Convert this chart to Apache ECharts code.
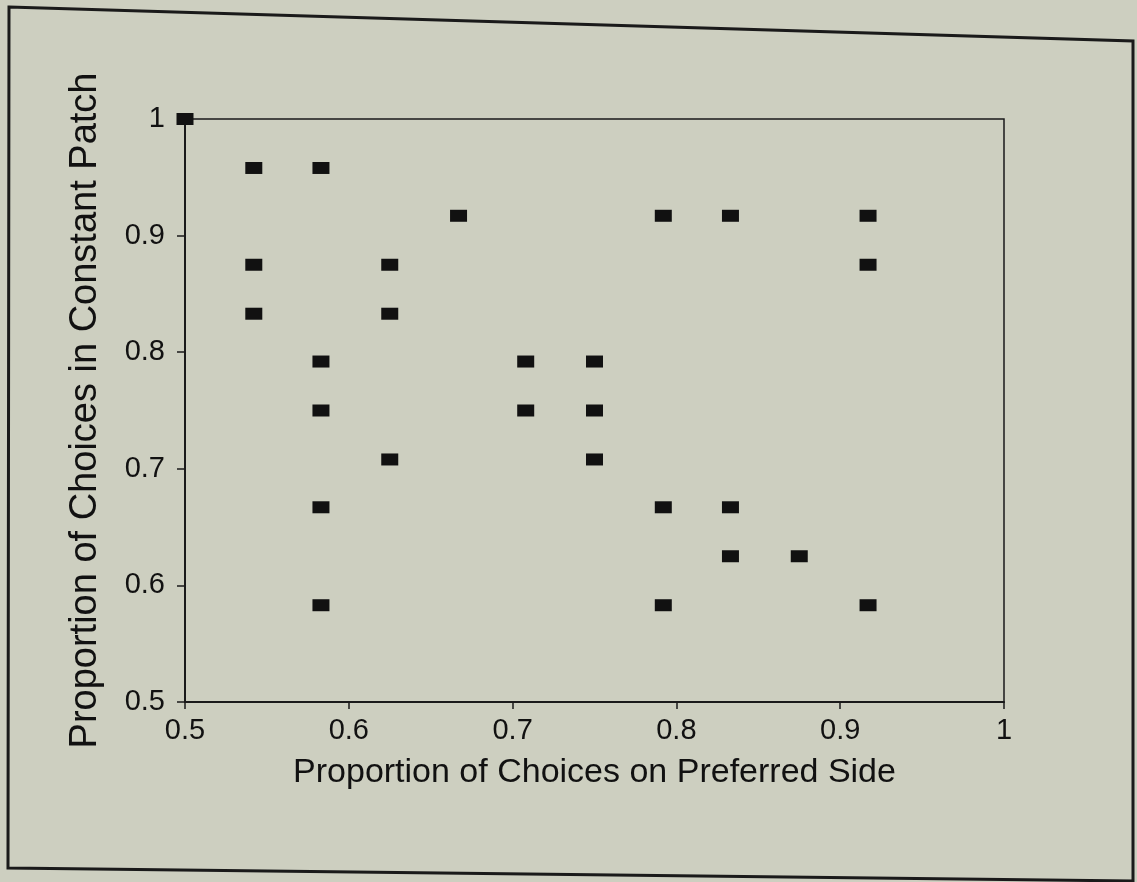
<!DOCTYPE html>
<html>
<head>
<meta charset="utf-8">
<script src="https://cdn.jsdelivr.net/npm/echarts@6/dist/echarts.min.js"></script>
<style>
  html, body { margin: 0; padding: 0; background: #cdcfc0; }
  #chart { width: 1137px; height: 882px; }
</style>
</head>
<body>
<div id="chart"></div>
<script>
// Data (x: proportion on preferred side, y: proportion in constant patch)
const xVals = [0.5, 0.542, 0.542, 0.542, 0.583, 0.583, 0.583, 0.583, 0.583, 0.625, 0.625, 0.625, 0.667, 0.708, 0.708, 0.75, 0.75, 0.75, 0.792, 0.792, 0.792, 0.833, 0.833, 0.833, 0.875, 0.917, 0.917, 0.917];
const yVals = [1.0, 0.958, 0.875, 0.833, 0.958, 0.792, 0.75, 0.667, 0.583, 0.875, 0.833, 0.708, 0.917, 0.792, 0.75, 0.792, 0.75, 0.708, 0.917, 0.667, 0.583, 0.917, 0.667, 0.625, 0.625, 0.917, 0.875, 0.583];
const xTickLabels = ['0.5', '0.6', '0.7', '0.8', '0.9', '1'];
const yTickLabels = ['0.5', '0.6', '0.7', '0.8', '0.9', '1'];
const xTitle = 'Proportion of Choices on Preferred Side';
const yTitle = 'Proportion of Choices in Constant Patch';

const points = xVals.map((x, i) => [x, yVals[i]]);
const tickIndex = v => Math.round((v - 0.5) / 0.1);

const chart = echarts.init(document.getElementById('chart'), null, { renderer: 'canvas' });
const font = 'Liberation Sans, Arial, sans-serif';
chart.setOption({
  backgroundColor: '#cdcfc0',
  animation: false,
  grid: {
    left: 185, right: 133, top: 119, bottom: 180,
    show: true, borderColor: '#1a1a1a', borderWidth: 1.5, backgroundColor: 'transparent'
  },
  xAxis: {
    type: 'value', min: 0.5, max: 1, interval: 0.1,
    name: xTitle, nameLocation: 'middle', nameGap: 54,
    nameTextStyle: { fontSize: 34, color: '#111', fontFamily: font },
    axisLine: { show: true, onZero: false, lineStyle: { color: '#1a1a1a', width: 2 } },
    axisTick: { show: true, inside: false, length: 7, lineStyle: { color: '#1a1a1a', width: 1.5 } },
    axisLabel: { fontSize: 29, color: '#111', fontFamily: font, margin: 14,
      formatter: v => xTickLabels[tickIndex(v)] },
    splitLine: { show: false }
  },
  yAxis: {
    type: 'value', min: 0.5, max: 1, interval: 0.1,
    name: yTitle, nameLocation: 'middle', nameGap: 80, nameRotate: 90,
    nameTextStyle: { fontSize: 38, color: '#111', fontFamily: font },
    axisLine: { show: true, onZero: false, lineStyle: { color: '#1a1a1a', width: 2 } },
    axisTick: { show: true, inside: false, length: 8, lineStyle: { color: '#1a1a1a', width: 1.5 } },
    axisLabel: { fontSize: 29, color: '#111', fontFamily: font, margin: 20,
      formatter: v => yTickLabels[tickIndex(v)] },
    splitLine: { show: false }
  },
  graphic: [{
    type: 'polygon',
    shape: { points: [[9, 7], [1133, 41], [1133, 881], [8, 868]] },
    style: { fill: 'none', stroke: '#1a1a1a', lineWidth: 3 },
    silent: true
  }],
  series: [{
    type: 'scatter',
    data: points,
    symbol: 'rect',
    symbolSize: [17, 12],
    itemStyle: { color: '#111111', opacity: 1 },
    clip: false
  }]
});
</script>
</body>
</html>
